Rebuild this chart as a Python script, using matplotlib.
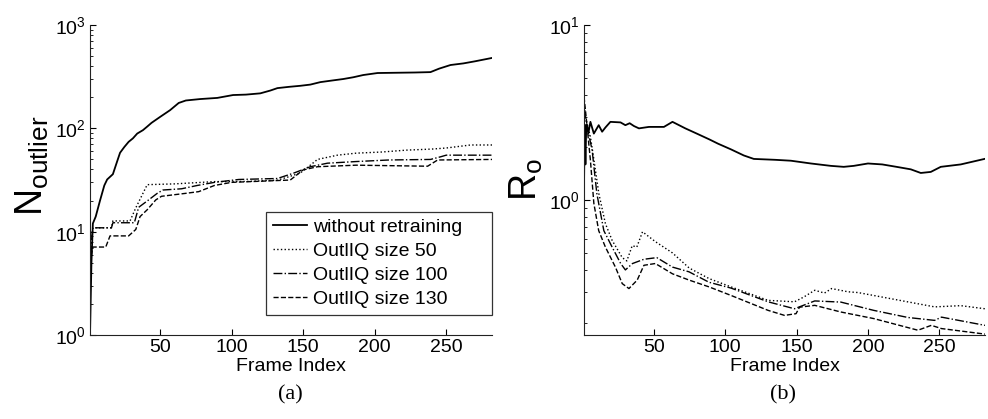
import numpy as np
import matplotlib
matplotlib.use("Agg")
import matplotlib.pyplot as plt
from matplotlib.ticker import LogLocator, NullFormatter, FixedLocator

# ---- (a) cumulative outlier count ----
a_labels = ["without retraining", "OutlIQ size 50", "OutlIQ size 100", "OutlIQ size 130"]

a_x_none = [1, 2, 3, 5, 8, 11, 13, 17, 20, 22, 25, 28, 31, 34, 38, 41, 44, 50, 57, 63, 68,
            78, 90, 101, 110, 120, 127, 132, 140, 148, 155, 162, 170, 178, 185, 192, 202,
            215, 228, 239, 245, 253, 262, 270, 282]
a_y_none = [1, 5, 12, 14, 20, 28, 32, 36, 48, 58, 66, 74, 80, 89, 96, 104, 113, 129, 150, 176,
            186, 192, 197, 210, 212, 218, 232, 245, 252, 258, 265, 280, 290, 300, 312, 328,
            343, 345, 347, 350, 378, 410, 425, 445, 480]

a_x_50 = [1, 3, 16, 17, 29, 33, 37, 41, 60, 88, 110, 132, 140, 148, 155, 160, 174, 187,
          205, 222, 240, 250, 267, 282]
a_y_50 = [6, 10.9, 10.9, 12.7, 12.7, 17, 22, 28.5, 29, 30.5, 30.6, 31.5, 34, 37, 44, 50,
          55, 57.5, 59, 61.5, 63, 64.5, 69, 69]

a_x_100 = [1, 3, 16, 17, 32, 35, 42, 48, 52, 65, 76, 88, 105, 132, 143, 155, 167, 187,
           210, 239, 246, 250, 282]
a_y_100 = [6, 10.9, 10.9, 12.2, 12.2, 17.2, 20.3, 23.5, 25.3, 26, 28, 30, 32, 32.7, 36.7,
           42.5, 46, 47.7, 49.4, 50, 53, 55, 55]

a_x_130 = [1, 3, 12, 15, 28, 33, 36, 41, 47, 51, 68, 77, 88, 100, 141, 150, 160, 187, 237,
           244, 282]
a_y_130 = [5, 7.1, 7.1, 9.1, 9.1, 10.5, 14, 16.3, 20.3, 22, 23.5, 24.4, 28, 30, 31.6, 39.6,
           42.5, 44, 43, 49.4, 50]

# ---- (b) outlier ratio ----
b_x_none = [1, 1.5, 2, 2.5, 3.2, 4, 5.5, 7.9, 11.3, 13.7, 16, 19.5, 26.6, 30, 33, 36, 39.5,
            46.5, 57, 63, 72, 80, 89, 95, 104, 113, 120, 135, 146, 160, 174, 183, 190, 200,
            210, 220, 230, 237, 244, 251, 265, 283]
b_y_none = [1.2, 2.7, 1.6, 2.5, 2.68, 2.4, 2.8, 2.4, 2.68, 2.46, 2.6, 2.8, 2.78, 2.68, 2.75,
            2.65, 2.57, 2.62, 2.62, 2.8, 2.57, 2.4, 2.22, 2.1, 1.95, 1.8, 1.72, 1.7, 1.68, 1.62,
            1.57, 1.55, 1.57, 1.62, 1.6, 1.55, 1.5, 1.43, 1.45, 1.55, 1.6, 1.73]

b_x_50 = [1, 2, 5.5, 8, 11.4, 16, 20.7, 27.8, 31, 34.8, 38, 42, 51, 63, 74.7, 88.6, 104, 130,
          148.5, 155, 162.7, 169.5, 174.5, 186, 193, 216, 246.7, 265, 282]
b_y_50 = [3.6, 3.0, 2.3, 1.69, 1.09, 0.735, 0.59, 0.47, 0.45, 0.55, 0.54, 0.66, 0.58, 0.50,
          0.41, 0.357, 0.32, 0.268, 0.263, 0.28, 0.306, 0.295, 0.313, 0.30, 0.297, 0.274,
          0.246, 0.25, 0.24]

b_x_100 = [1, 3.2, 6.7, 10, 14.9, 20.7, 26.7, 30, 35, 43, 52, 63, 74.6, 88.6, 104, 130, 148.5,
           162.7, 181, 204, 228, 246.7, 251.5, 282]
b_y_100 = [3.3, 2.62, 1.93, 1.09, 0.67, 0.54, 0.435, 0.40, 0.435, 0.46, 0.47, 0.415, 0.39,
           0.34, 0.315, 0.263, 0.24, 0.266, 0.262, 0.235, 0.214, 0.206, 0.215, 0.193]

b_x_130 = [1, 2, 5.5, 7.9, 11.3, 16, 23, 27.8, 32.5, 38.3, 43, 51, 63, 74.6, 88.6, 104, 130,
           141.5, 149.6, 152, 162.7, 181, 204, 235, 244.4, 251.5, 282]
b_y_130 = [3.9, 3.27, 1.69, 0.96, 0.67, 0.54, 0.415, 0.334, 0.313, 0.35, 0.425, 0.435, 0.38,
           0.35, 0.32, 0.286, 0.235, 0.22, 0.225, 0.245, 0.251, 0.23, 0.211, 0.181, 0.193,
           0.185, 0.172]

x_ticks = [50, 100, 150, 200, 250]
styles = [("-", 1.3), (":", 1.0), ("-.", 1.0), ("--", 1.0)]

plt.rcParams["font.family"] = ["Liberation Sans", "DejaVu Sans"]
plt.rcParams["mathtext.default"] = "regular"

fig = plt.figure(figsize=(9.88, 4.19), dpi=100)
ax_a = fig.add_axes([90 / 988, 84 / 419, 402 / 988, 310 / 419])
ax_b = fig.add_axes([584 / 988, 84 / 419, 401 / 988, 310 / 419])


def style_axes(ax, ylim):
    ax.set_yscale("log")
    ax.set_xlim(1, 282)
    ax.set_ylim(*ylim)
    ax.spines["top"].set_visible(False)
    ax.spines["right"].set_visible(False)
    for s in ("left", "bottom"):
        ax.spines[s].set_linewidth(0.8)
        ax.spines[s].set_color("#222222")
    ax.xaxis.set_major_locator(FixedLocator(x_ticks))
    ax.yaxis.set_major_locator(LogLocator(base=10))
    ax.yaxis.set_minor_locator(LogLocator(base=10, subs=np.arange(2, 10)))
    ax.yaxis.set_minor_formatter(NullFormatter())
    ax.tick_params(which="major", direction="in", length=4, width=0.8, labelsize=14, pad=3)
    ax.tick_params(which="minor", direction="in", length=2.5, width=0.6)
    ax.set_xlabel("Frame Index", fontsize=14, labelpad=1)


series_a = [(a_x_none, a_y_none), (a_x_50, a_y_50), (a_x_100, a_y_100), (a_x_130, a_y_130)]
for (xs, ys), (ls, lw), lab in zip(series_a, styles, a_labels):
    ax_a.plot(xs, ys, color="black", linestyle=ls, lw=lw, label=lab)
style_axes(ax_a, (1, 1000))
ax_a.set_ylabel(r"$\mathregular{N_{outlier}}$", fontsize=27)
ax_a.yaxis.set_label_coords(-0.097, 0.545)
leg = ax_a.legend(loc="lower left", bbox_to_anchor=(0.438, 0.0645, 0.562, 0.3),
                  mode="expand", borderaxespad=0,
                  fontsize=14, frameon=True, fancybox=False, handlelength=1.75,
                  handletextpad=0.3, labelspacing=0.33, borderpad=0.35)
leg.get_frame().set_edgecolor("black")
leg.get_frame().set_linewidth(0.9)

series_b = [(b_x_none, b_y_none), (b_x_50, b_y_50), (b_x_100, b_y_100), (b_x_130, b_y_130)]
for (xs, ys), (ls, lw) in zip(series_b, styles):
    ax_b.plot(xs, ys, color="black", linestyle=ls, lw=lw)
style_axes(ax_b, (0.17, 10))
ax_b.set_ylabel(r"$\mathregular{R_{o}}$", fontsize=27)
ax_b.yaxis.set_label_coords(-0.097, 0.5)

fig.text(290 / 988, 1 - 395 / 419, "(a)", ha="center", va="center",
         fontsize=16, family="Liberation Serif")
fig.text(783 / 988, 1 - 395 / 419, "(b)", ha="center", va="center",
         fontsize=16, family="Liberation Serif")

fig.savefig("out.png", dpi=100)
